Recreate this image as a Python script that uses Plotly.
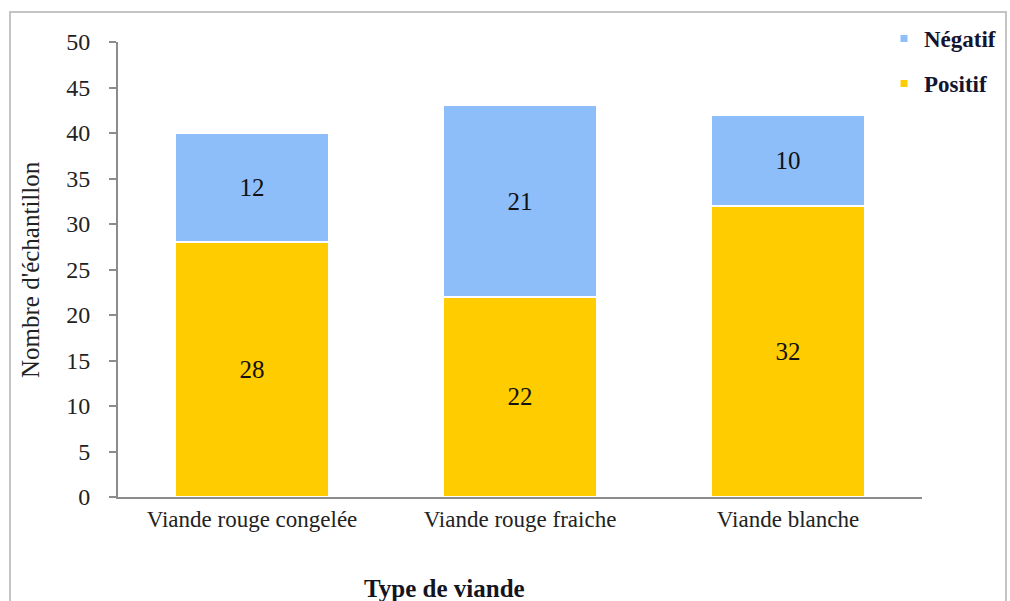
import plotly.graph_objects as go

categories = ["Viande rouge congelée", "Viande rouge fraiche", "Viande blanche"]
positif = [28, 22, 32]
negatif = [12, 21, 10]
yticks = [0, 5, 10, 15, 20, 25, 30, 35, 40, 45, 50]

BLUE = "#8EBEFA"
YELLOW = "#FFCC00"
SERIF = "Liberation Serif, Times New Roman, serif"

fig = go.Figure()
fig.add_trace(go.Bar(
    x=categories, y=positif, name="Positif", marker=dict(color=YELLOW, line=dict(color="white", width=1.5)),
    text=positif, textposition="inside", insidetextanchor="middle",
    textfont=dict(family=SERIF, size=25, color="#111111"), showlegend=False))
fig.add_trace(go.Bar(
    x=categories, y=negatif, name="Négatif", marker=dict(color=BLUE, line=dict(color="white", width=1.5)),
    text=negatif, textposition="inside", insidetextanchor="middle",
    textfont=dict(family=SERIF, size=25, color="#111111"), showlegend=False))

# legend entries (small square markers)
fig.add_trace(go.Scatter(x=[None], y=[None], mode="markers", name="Négatif",
                         marker=dict(symbol="square", size=7, color=BLUE), legend="legend"))
fig.add_trace(go.Scatter(x=[None], y=[None], mode="markers", name="Positif",
                         marker=dict(symbol="square", size=7, color=YELLOW), legend="legend2"))

L, R, T, B = 118, 88, 42, 104
W, H = 1010, 601
pw, ph = W - L - R, H - T - B

def px_x(p):
    return (p - L) / pw

def px_y(p):
    return 1 - (p - T) / ph

legfont = dict(family=SERIF, size=23, color="#141430", weight="bold")
fig.update_layout(
    width=W, height=H,
    margin=dict(l=L, r=R, t=T, b=B, autoexpand=False),
    barmode="stack", bargap=0.43,
    paper_bgcolor="white", plot_bgcolor="white",
    font=dict(family=SERIF, size=23, color="#222222"),
    xaxis=dict(showline=True, linecolor="#8c8c8c", linewidth=2, ticks="",
               tickfont=dict(family=SERIF, size=23, color="#222222"), showgrid=False),
    yaxis=dict(range=[0, 50], tickvals=yticks, showline=True, linecolor="#8c8c8c", linewidth=2,
               ticks="outside", ticklen=7, tickcolor="#8c8c8c", tickwidth=1.5,
               tickfont=dict(family=SERIF, size=24, color="#222222"), showgrid=False,
               zeroline=False, ticklabelstandoff=14),
    legend=dict(x=px_x(884), y=px_y(17), xanchor="left", yanchor="top",
                font=legfont, bgcolor="rgba(0,0,0,0)", itemwidth=30),
    legend2=dict(x=px_x(884), y=px_y(62), xanchor="left", yanchor="top",
                 font=legfont, bgcolor="rgba(0,0,0,0)", itemwidth=30),
    shapes=[dict(type="rect", xref="paper", yref="paper",
                 x0=px_x(10), x1=px_x(1006), y0=px_y(640), y1=px_y(12),
                 line=dict(color="#c4c4c4", width=2), layer="below")],
    annotations=[
        dict(text="Nombre d'échantillon", xref="paper", yref="paper", x=px_x(30), y=px_y(270),
             textangle=-90, showarrow=False, font=dict(family=SERIF, size=25, color="#222222"),
             xanchor="center", yanchor="middle"),
        dict(text="<b>Type de viande</b>", xref="paper", yref="paper", x=px_x(444), y=px_y(588),
             showarrow=False, font=dict(family=SERIF, size=25, color="#141420"),
             xanchor="center", yanchor="middle"),
    ],
)

fig.write_html("out.html")
